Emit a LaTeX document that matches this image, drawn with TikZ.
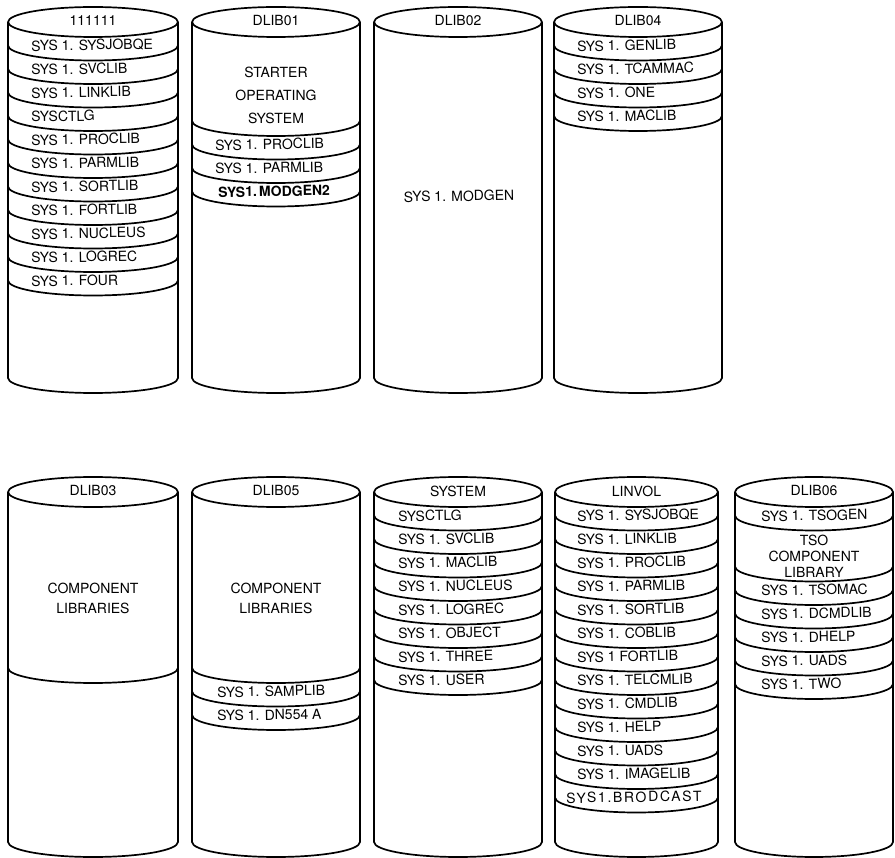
\documentclass[tikz,border=0pt]{standalone}
\usepackage{fontspec}
\setmainfont{TeX Gyre Heros}
\def\cylry{15}
\newcommand\sagto[3]{.. controls (#1,{#3+0.5523*\cylry}) and ({(#1+#2)/2-0.5523*(#2-#1)/2},{#3+\cylry}) .. ({(#1+#2)/2},{#3+\cylry}) .. controls ({(#1+#2)/2+0.5523*(#2-#1)/2},{#3+\cylry}) and (#2,{#3+0.5523*\cylry}) .. (#2,{#3})}
\newcommand\cylbody[4]{%
  \draw[cylline] ({(#1+#2)/2},#3) ellipse[x radius={(#2-#1)/2}, y radius=\cylry];
  \draw[cylline] (#1,#3) -- (#1,#4) \sagto{#1}{#2}{#4} -- (#2,#3);}
\newcommand\cyldiv[3]{\draw[cylline] (#1,{#3}) \sagto{#1}{#2}{#3};}
\begin{document}
\begin{tikzpicture}[x=1pt,y=-1pt,
  cylline/.style={line width=1.7pt, line join=round},
  lbl/.style={font=\fontsize{14}{16}\selectfont, inner sep=0pt, anchor=center},
  lst/.style={font=\fontsize{14}{16}\selectfont, inner sep=0pt, anchor=west, rotate=1},
  big/.style={lbl, align=center}]
\useasboundingbox (0,0) rectangle (895,858);
\fill[white] (0,0) rectangle (895,858);

% ---------------- top row ----------------
% 111111
\cylbody{8}{178}{22}{378}
\foreach \k in {1,...,11} {\cyldiv{8}{178}{22+23.5*\k}}
\node[lbl] (t1) at (93,21) {111111};
\foreach \t [count=\k] in {SYS 1. SYSJOBQE, SYS 1. SVCLIB, SYS 1. LINKLIB, SYSCTLG, SYS 1. PROCLIB, SYS 1. PARMLIB, SYS 1. SORTLIB, SYS 1. FORTLIB, SYS 1. NUCLEUS, SYS 1. LOGREC, SYS 1. FOUR}
  \node[lst] (t1l\k) at (31,{22+23.5*(\k-0.5)+12.5}) {\t};

% DLIB01
\cylbody{192}{360}{22}{378}
\foreach \y in {121,144.5,168,191.5} {\cyldiv{192}{360}{\y}}
\node[lbl] (t2) at (276,21) {DLIB01};
\node[big, font=\fontsize{14}{23}\selectfont] (t2s) at (276,95) {STARTER\\OPERATING\\SYSTEM};
\node[lst] (t2a) at (215,145.25) {SYS 1. PROCLIB};
\node[lst] (t2b) at (215,168.75) {SYS 1. PARMLIB};
\node[lst, font=\fontsize{14}{16}\selectfont\bfseries] (t2c) at (218,192.25) {SYS1.\,MODGEN2};

% DLIB02
\cylbody{374}{542}{22}{378}
\node[lbl] (t3) at (458,21) {DLIB02};
\node[lbl, rotate=1] (t3a) at (459,196) {SYS 1. MODGEN};

% DLIB04
\cylbody{554}{722}{22}{378}
\foreach \k in {1,...,4} {\cyldiv{554}{722}{22+23.5*\k}}
\node[lbl] (t4) at (638,21) {DLIB04};
\foreach \t [count=\k] in {SYS 1. GENLIB, SYS 1. TCAMMAC, SYS 1. ONE, SYS 1. MACLIB}
  \node[lst] (t4l\k) at (577,{22+23.5*(\k-0.5)+12.5}) {\t};

% ---------------- bottom row ----------------
% DLIB03
\cylbody{8}{178}{492}{842}
\cyldiv{8}{178}{668}
\node[lbl] (b1) at (93,491) {DLIB03};
\node[big, font=\fontsize{14}{20}\selectfont] (b1s) at (93,598) {COMPONENT\\LIBRARIES};

% DLIB05
\cylbody{192}{360}{492}{842}
\foreach \y in {668,691.5,715} {\cyldiv{192}{360}{\y}}
\node[lbl] (b2) at (276,491) {DLIB05};
\node[big, font=\fontsize{14}{20}\selectfont] (b2s) at (276,598) {COMPONENT\\LIBRARIES};
\node[lst] (b2a) at (217,692.25) {SYS 1. SAMPLIB};
\node[lst] (b2b) at (217,715.75) {SYS 1. DN554 A};

% SYSTEM
\cylbody{374}{542}{492}{842}
\foreach \k in {1,...,8} {\cyldiv{374}{542}{492+23.5*\k}}
\node[lbl] (b3) at (458,491) {SYSTEM};
\foreach \t [count=\k] in {SYSCTLG, SYS 1. SVCLIB, SYS 1. MACLIB, SYS 1. NUCLEUS, SYS 1. LOGREC, SYS 1. OBJECT, SYS 1. THREE, SYS 1. USER}
  \node[lst] (b3l\k) at (398,{492+23.5*(\k-0.5)+12.5}) {\t};

% LINVOL
\cylbody{555}{718}{492}{842}
\foreach \k in {1,...,13} {\cyldiv{555}{718}{492+23.5*\k}}
\node[lbl] (b4) at (636.5,491) {LINVOL};
\foreach \t [count=\k] in {SYS 1. SYSJOBQE, SYS 1. LINKLIB, SYS 1. PROCLIB, SYS 1. PARMLIB, SYS 1. SORTLIB, SYS 1. COBLIB, SYS 1 FORTLIB, SYS 1. TELCMLIB, SYS 1. CMDLIB, SYS 1. HELP, SYS 1. UADS, SYS 1. IMAGELIB}
  \node[lst] (b4l\k) at (577,{492+23.5*(\k-0.5)+12.5}) {\t};
\node[lst, font=\fontsize{14}{16}\selectfont\addfontfeature{LetterSpace=12}] (b4l13) at (566,{492+23.5*12.5+12.5}) {SYS1.BRODCAST};

% DLIB06
\cylbody{735}{893}{492}{842}
\foreach \y in {515.5,566.5,590,613.5,637,660.5,684} {\cyldiv{735}{893}{\y}}
\node[lbl] (b5) at (814,491) {DLIB06};
\node[lst] (b5a) at (761,516.25) {SYS 1. TSOGEN};
\node[big, font=\fontsize{14}{16}\selectfont] (b5s) at (814,556) {TSO\\COMPONENT\\LIBRARY};
\foreach \t [count=\k] in {SYS 1. TSOMAC, SYS 1. DCMDLIB, SYS 1. DHELP, SYS 1. UADS, SYS 1. TWO}
  \node[lst] (b5l\k) at (761,{566.5+23.5*(\k-0.5)+12.5}) {\t};
\end{tikzpicture}
\end{document}
